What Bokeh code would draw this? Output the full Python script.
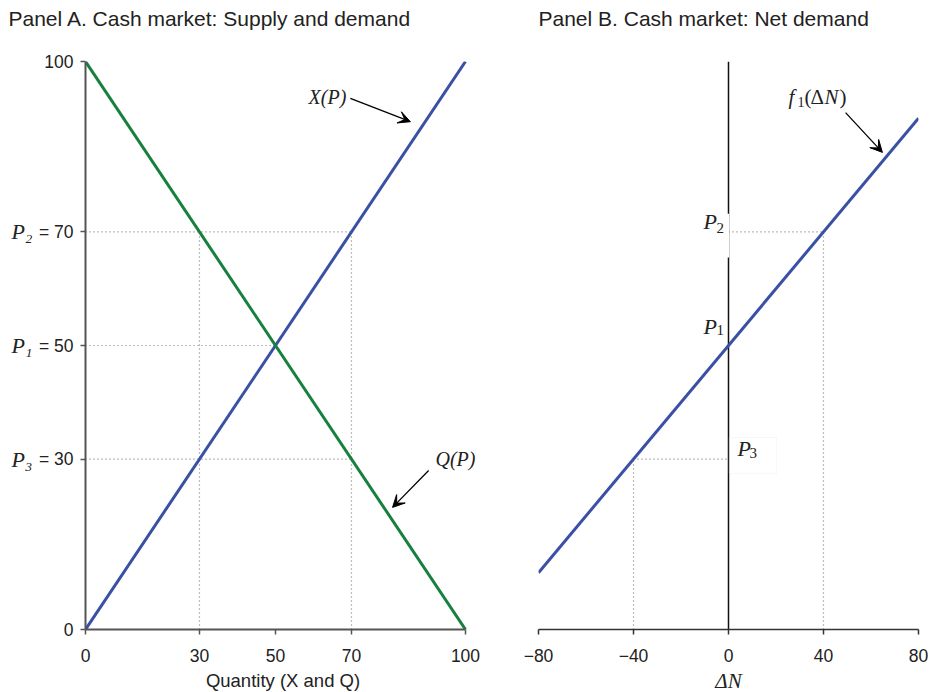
from bokeh.plotting import figure
from bokeh.models import Label, Arrow, VeeHead, BoxAnnotation, FixedTicker, Range1d, LinearAxis
from bokeh.layouts import row, column
from bokeh.embed import file_html
from bokeh.resources import INLINE

# ---------------- data ----------------
# Panel A: supply X(P) and demand Q(P)
supply_qty = [0, 100]
supply_price = [0, 100]
demand_qty = [0, 100]
demand_price = [100, 0]
P1, P2, P3 = 50, 70, 30
q_at_p2_demand = 30
q_at_p2_supply = 70
q_at_p3_demand = 70
a_xticks = [0, 30, 50, 70, 100]
a_yticks = [0, 30, 50, 70, 100]
a_ylabels = {0: "0", 30: "= 30", 50: "= 50", 70: "= 70", 100: "100"}
a_pticks = [30, 50, 70]
a_plabels = {30: "P\u2083", 50: "P\u2081", 70: "P\u2082"}

# Panel B: net demand f1(dN)
net_dn = [-80, 80]
net_price = [10, 90]
dn_at_p2 = 40
dn_at_p3 = -40
b_xticks = [-80, -40, 0, 40, 80]
b_xlabels = {-80: "\u221280", -40: "\u221240", 0: "0", 40: "40", 80: "80"}

titles = ["Panel A. Cash market: Supply and demand", "Panel B. Cash market: Net demand"]

BLUE = "#3a50a5"
GREEN = "#17803f"
DOT = "#7a7a7a"
INK = "#222222"
SANS = "Liberation Sans"
SERIF = "Liberation Serif"
TOTAL_W = 929
STRIP_H = 40


def base_fig(xr, yr, fw, left, right):
    p = figure(frame_width=fw, frame_height=568, x_range=Range1d(*xr), y_range=Range1d(*yr),
               output_backend="svg", toolbar_location=None,
               min_border_left=left, min_border_right=right, min_border_top=61 - STRIP_H,
               min_border_bottom=0)
    p.outline_line_color = None
    p.xgrid.visible = False
    p.ygrid.visible = False
    return p


def style_axis(ax, color, width):
    ax.axis_line_color = color
    ax.axis_line_width = width
    ax.major_tick_line_color = color
    ax.major_tick_line_width = 1.5
    ax.major_tick_out = 5
    ax.major_tick_in = 0
    ax.minor_tick_line_color = None
    ax.major_label_text_font = SANS
    ax.major_label_text_font_size = "17.5px"
    ax.major_label_text_color = INK
    ax.axis_label_text_font = SANS
    ax.axis_label_text_font_style = "normal"
    ax.axis_label_text_color = INK


def txt(p, x, y, t, xo=0, yo=0, size="20px", style="italic", baseline="middle"):
    p.add_layout(Label(x=x, y=y, x_offset=xo, y_offset=yo, text=t, text_font=SERIF,
                       text_font_style=style, text_font_size=size, text_color=INK,
                       text_baseline=baseline))


# ---------------- title strip ----------------
strip = figure(width=TOTAL_W, height=STRIP_H, x_range=Range1d(0, TOTAL_W), y_range=Range1d(STRIP_H, 0),
               output_backend="svg", toolbar_location=None, x_axis_location=None,
               y_axis_location=None, min_border=0)
strip.outline_line_color = None
strip.xgrid.visible = False
strip.ygrid.visible = False
for tx, t in zip([8, 538], titles):
    strip.add_layout(Label(x=tx, y=18, text=t, text_font=SANS, text_font_size="21px",
                           text_color=INK, text_baseline="middle"))

# ---------------- Panel A ----------------
pA = base_fig((0, 103.95), (0, 100), 395, 85, 5)
style_axis(pA.xaxis[0], "#555555", 2)
style_axis(pA.yaxis[0], "#555555", 2)
pA.xaxis.bounds = (0, 100)
pA.xaxis.ticker = FixedTicker(ticks=a_xticks)
pA.yaxis.ticker = FixedTicker(ticks=a_yticks)
pA.yaxis.major_label_overrides = a_ylabels
pA.yaxis.major_label_standoff = 7
pA.xaxis.major_label_standoff = 14
pA.xaxis.axis_label = "Quantity (X and Q)"
pA.xaxis.axis_label_text_font_size = "18.5px"
pA.xaxis.axis_label_standoff = 5

pax = LinearAxis(ticker=FixedTicker(ticks=a_pticks), major_label_overrides=a_plabels)
pax.axis_line_color = None
pax.major_tick_line_color = None
pax.major_tick_out = 0
pax.major_tick_in = 0
pax.minor_tick_line_color = None
pax.major_label_standoff = 3
pax.major_label_text_font = SERIF
pax.major_label_text_font_style = "italic"
pax.major_label_text_font_size = "22px"
pax.major_label_text_color = INK
pA.add_layout(pax, "left")

dots = dict(line_color=DOT, line_width=1.2, line_dash="1 3")
pA.line([0, q_at_p2_supply], [P2, P2], **dots)
pA.line([0, P1], [P1, P1], **dots)
pA.line([0, q_at_p3_demand], [P3, P3], **dots)
pA.line([q_at_p2_demand, q_at_p2_demand], [0, P2], **dots)
pA.line([q_at_p2_supply, q_at_p2_supply], [0, P2], **dots)

pA.line(supply_qty, supply_price, line_color=BLUE, line_width=3)
pA.line(demand_qty, demand_price, line_color=GREEN, line_width=3)

head = dict(size=12, fill_color="black", line_color="black")
pA.add_layout(Arrow(x_start=69.7, y_start=93.5, x_end=85.5, y_end=89.4, line_width=1.3,
                    end=VeeHead(**head)))
pA.add_layout(Arrow(x_start=90.3, y_start=28.0, x_end=80.8, y_end=21.5, line_width=1.3,
                    end=VeeHead(**head)))
txt(pA, 58.7, 93.8, "X(P)")
txt(pA, 92.1, 30.1, "Q(P)")

# ---------------- Panel B ----------------
pB = base_fig((-80, 80), (0, 100), 380, 53, 11)
pB.yaxis.visible = False
style_axis(pB.xaxis[0], "#333333", 1.5)
pB.xaxis.ticker = FixedTicker(ticks=b_xticks)
pB.xaxis.major_label_overrides = b_xlabels
pB.xaxis.major_label_standoff = 14
pB.xaxis.axis_label = "\u0394N"
pB.xaxis.axis_label_text_font = SERIF
pB.xaxis.axis_label_text_font_style = "italic"
pB.xaxis.axis_label_text_font_size = "21px"
pB.xaxis.axis_label_standoff = 4

pB.line([0, dn_at_p2], [P2, P2], **dots)
pB.line([dn_at_p2, dn_at_p2], [0, P2], **dots)
pB.line([dn_at_p3, 0], [P3, P3], **dots)
pB.line([dn_at_p3, dn_at_p3], [0, P3], **dots)
pB.line([0, 0], [0, 100], line_color="#111111", line_width=1.5)
pB.line(net_dn, net_price, line_color=BLUE, line_width=3)

pB.add_layout(BoxAnnotation(left=-13.9, right=0.3, bottom=65.5, top=73.2,
                            fill_color="white", fill_alpha=1, line_color=None))
pB.add_layout(BoxAnnotation(left=0.3, right=20.2, bottom=27.5, top=33.8,
                            fill_alpha=0, line_color="#e6e6e6", line_width=1))

pB.add_layout(Arrow(x_start=49.3, y_start=91.0, x_end=64.8, y_end=84.0, line_width=1.3,
                    end=VeeHead(**head)))
fx, fy = 25.3, 93.7
txt(pB, fx, fy, "f", size="21px")
txt(pB, fx, fy, "1", xo=9, yo=-5, size="14px", style="normal")
txt(pB, fx, fy, "(", xo=16, size="21px", style="normal")
txt(pB, fx, fy, "\u0394", xo=22, size="21px", style="normal")
txt(pB, fx, fy, "N", xo=36, size="21px", style="italic")
txt(pB, fx, fy, ")", xo=51, size="21px", style="normal")

for (yv, s, xo, yo, sxo, syo) in [(P2, "2", -25, 10, -12, 4), (P1, "1", -25, 19, -12, 16),
                                  (P3, "3", 9, 11, 21, 6)]:
    txt(pB, 0, yv, "P", xo=xo, yo=yo, size="22px", baseline="alphabetic")
    txt(pB, 0, yv, s, xo=sxo, yo=syo, size="15px", style="normal", baseline="alphabetic")

layout = column(strip, row(pA, pB))
open("out.html", "w").write(file_html(layout, INLINE))
